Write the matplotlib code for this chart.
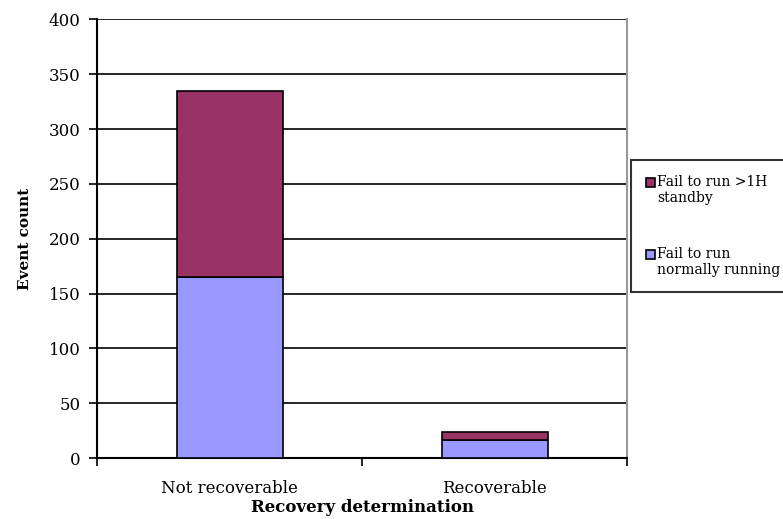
import matplotlib
matplotlib.use("Agg")
import matplotlib.pyplot as plt
import numpy as np

categories = ["Not recoverable", "Recoverable"]
normally_running = [165, 16]
standby = [170, 8]
series_labels = ["Fail to run >1H\nstandby", "Fail to run\nnormally running"]
yticks = [0, 50, 100, 150, 200, 250, 300, 350, 400]

plt.rcParams['font.family'] = ['DejaVu Serif']

fig = plt.figure(figsize=(7.83, 5.19), dpi=100)
ax = fig.add_axes([0.1239, 0.1175, 0.677, 0.845])

x = np.arange(len(categories))
b1 = ax.bar(x, normally_running, width=0.4, color="#9999FF", edgecolor="black", linewidth=1.2, zorder=3)
b2 = ax.bar(x, standby, width=0.4, bottom=normally_running, color="#993366", edgecolor="black", linewidth=1.2, zorder=3)

ax.set_xlim(-0.5, 1.5)
ax.set_ylim(0, 400)
ax.set_yticks(yticks)
ax.set_yticklabels([str(v) for v in yticks], fontsize=12)
ax.yaxis.grid(True, color="black", linewidth=1.2, zorder=0)
ax.set_axisbelow(True)

ax.set_xticks([-0.5, 0.5, 1.5])
ax.set_xticklabels([])
ax.set_xticks(x, minor=True)
ax.set_xticklabels(categories, minor=True, fontsize=12)
ax.tick_params(axis='x', which='minor', length=0, pad=16)
ax.tick_params(axis='x', which='major', length=6, width=1.2, direction='out')
ax.tick_params(axis='y', length=6, width=1.2, direction='out', pad=6)

for s in ['left', 'bottom']:
    ax.spines[s].set_linewidth(1.5)
    ax.spines[s].set_color('black')
ax.spines['top'].set_visible(False)
ax.spines['right'].set_color('#999999')
ax.spines['right'].set_linewidth(1.5)

ax.set_xlabel("Recovery determination", fontsize=12, fontweight='bold', labelpad=1)
ax.set_ylabel("Event count", fontsize=11, fontweight='bold', labelpad=12)

leg = fig.legend([b2, b1], series_labels, loc='upper left',
                 bbox_to_anchor=(0.806, 0.692), frameon=True, fancybox=False,
                 edgecolor='black', fontsize=10, handlelength=0.6, handleheight=0.6,
                 handletextpad=0.15, labelspacing=3.0, borderpad=1.1, borderaxespad=0)
leg.get_frame().set_linewidth(1.5)
for h in leg.legend_handles:
    h.set_y(h.get_y() + 6.0)

fig.savefig("out.png", dpi=100)
